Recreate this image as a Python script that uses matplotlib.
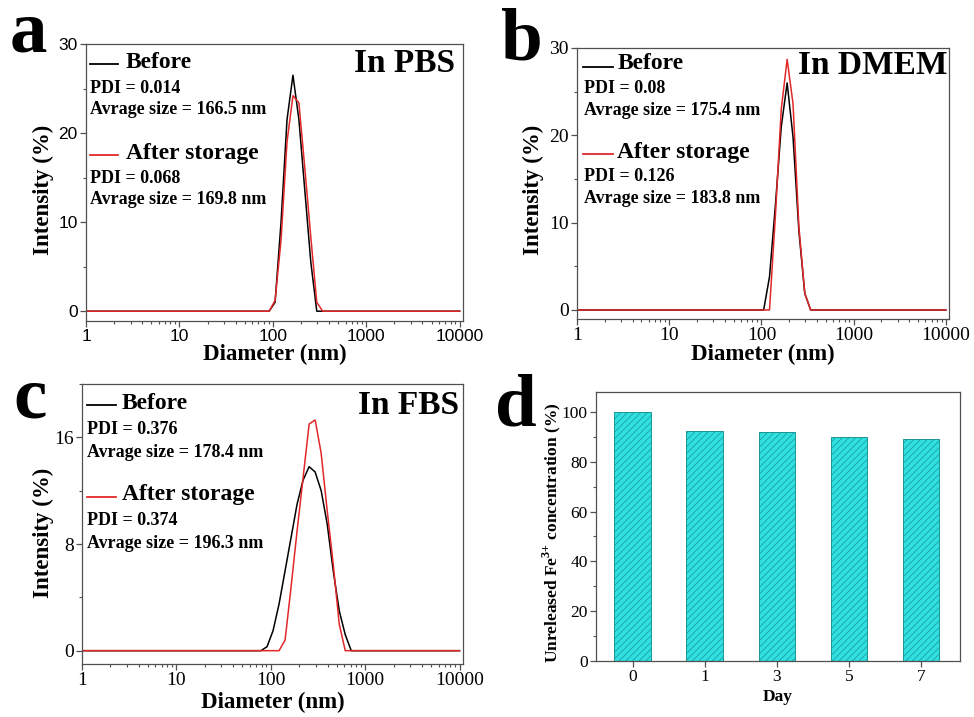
import matplotlib
matplotlib.use("Agg")
import matplotlib.pyplot as plt
import matplotlib.ticker as mticker

plt.rcParams['font.family'] = ['Liberation Serif', 'DejaVu Serif']
plt.rcParams['mathtext.fontset'] = 'custom'
plt.rcParams['mathtext.rm'] = 'Liberation Serif'
plt.rcParams['mathtext.bf'] = 'Liberation Serif:bold'
plt.rcParams['hatch.linewidth'] = 0.5
plt.rcParams['axes.edgecolor'] = '#505050'
plt.rcParams['axes.linewidth'] = 0.9

# DLS size bins (nm)
size_nm = [1, 78.82, 91.28, 105.7, 122.4, 141.8, 164.2, 190.1, 220.2, 255.0,
           295.3, 342.0, 396.1, 458.7, 531.2, 615.1, 712.4, 825.0, 10000]

# intensity (%) per bin
pbs_before = [0, 0, 0, 1.0, 10, 21.5, 26.5, 21.5, 13.5, 5.5, 0, 0, 0, 0, 0, 0, 0, 0, 0]
pbs_after = [0, 0, 0, 1.2, 8, 19, 24.2, 23.4, 16, 8.3, 1, 0, 0, 0, 0, 0, 0, 0, 0]
dmem_before = [0, 0, 0, 0, 3.8, 12, 21, 26, 19.8, 9, 1.9, 0, 0, 0, 0, 0, 0, 0, 0]
dmem_after = [0, 0, 0, 0, 0, 10.8, 23, 28.7, 23.6, 9.5, 1.9, 0, 0, 0, 0, 0, 0, 0, 0]
fbs_before = [0, 0, 0.3, 1.5, 3.5, 6, 8.5, 11, 12.8, 13.8, 13.4, 12, 9.5, 6, 3, 1.2, 0, 0, 0]
fbs_after = [0, 0, 0, 0, 0, 0.8, 4.8, 9, 13, 17, 17.3, 14.8, 10.5, 6.5, 2, 0, 0, 0, 0]

panel_info = [
    ("a", "In PBS", pbs_before, pbs_after, "0.014", "166.5", "0.068", "169.8"),
    ("b", "In DMEM", dmem_before, dmem_after, "0.08", "175.4", "0.126", "183.8"),
    ("c", "In FBS", fbs_before, fbs_after, "0.376", "178.4", "0.374", "196.3"),
]

days = ["0", "1", "3", "5", "7"]
unreleased_fe = [100, 92.2, 91.9, 90.1, 89.0]

fig = plt.figure(figsize=(9.74, 7.17), dpi=100)

axes_rects = [
    [0.0883, 0.5523, 0.387, 0.3863],
    [0.5924, 0.5551, 0.382, 0.378],
    [0.0842, 0.0739, 0.391, 0.3905],
]
ylims = [(-1.1, 30), (-1.03, 30), (-1.0, 20)]
yticks = [([0, 10, 20, 30], 5), ([0, 10, 20, 30], 5), ([0, 8, 16], 4)]
tickfonts = [('Liberation Sans', 12.5), ('Liberation Serif', 14), ('Liberation Serif', 14)]
ylab_pos = [(-0.114, 0.473), (-0.118, 0.476), (-0.102, 0.468)]
xlab_y = [-0.122, -0.132, -0.139]

# text layout (axes fraction): legend line x0,x1 ; text x ; rows y
layout = [
    dict(lx=(0.011, 0.085), tx=0.106, px=0.011, rows=(0.928, 0.935, 0.841, 0.762, 0.599, 0.606, 0.516, 0.437), title=(0.979, 0.928)),
    dict(lx=(0.016, 0.097), tx=0.108, px=0.019, rows=(0.930, 0.941, 0.849, 0.768, 0.609, 0.616, 0.524, 0.443), title=(0.995, 0.937)),
    dict(lx=(0.013, 0.089), tx=0.105, px=0.013, rows=(0.925, 0.932, 0.839, 0.757, 0.596, 0.604, 0.511, 0.432), title=(0.990, 0.925)),
]

letter_pos = [(10, 52), (501, 60), (13, 417), (495, 425)]

for i, (letter, title, before, after, pdi1, sz1, pdi2, sz2) in enumerate(panel_info):
    ax = fig.add_axes(axes_rects[i])
    ax.plot(size_nm, before, color='black', lw=1.1)
    ax.plot(size_nm, after, color='#e0282a', lw=1.1)
    ax.set_xscale('log')
    ax.set_xlim(1, 10 ** 4.035)
    ax.set_ylim(*ylims[i])
    ax.set_xticks([1, 10, 100, 1000, 10000])
    ax.xaxis.set_major_formatter(mticker.FuncFormatter(lambda v, p: f"{v:g}"))
    ax.xaxis.set_minor_locator(mticker.LogLocator(base=10, subs=range(2, 10), numticks=20))
    ax.xaxis.set_minor_formatter(mticker.NullFormatter())
    ax.set_yticks(yticks[i][0])
    ax.yaxis.set_minor_locator(mticker.MultipleLocator(yticks[i][1]))
    ax.tick_params(which='major', direction='out', length=4, width=0.9, color='#505050',
                   labelsize=tickfonts[i][1], labelfontfamily=tickfonts[i][0], pad=2)
    ax.tick_params(which='minor', direction='out', length=2.2, width=0.8, color='#505050')

    ax.set_ylabel("Intensity (%)", fontsize=16.5, fontweight='bold')
    ax.yaxis.set_label_coords(*ylab_pos[i])
    ax.yaxis.label.set_va('center')
    ax.set_xlabel("Diameter (nm)", fontsize=16.5, fontweight='bold')
    ax.xaxis.set_label_coords(0.5, xlab_y[i])
    ax.xaxis.label.set_va('center')

    L = layout[i]
    r = L['rows']
    ax.plot(L['lx'], [r[0], r[0]], color='black', lw=1.3, transform=ax.transAxes)
    ax.text(L['tx'], r[1], "Before", transform=ax.transAxes, fontsize=17,
            fontweight='bold', va='center', ha='left')
    ax.text(L['px'], r[2], f"PDI = {pdi1}", transform=ax.transAxes, fontsize=13,
            fontweight='bold', va='center', ha='left')
    ax.text(L['px'], r[3], f"Avrage size = {sz1} nm", transform=ax.transAxes, fontsize=13,
            fontweight='bold', va='center', ha='left')
    ax.plot(L['lx'], [r[4], r[4]], color='#e0282a', lw=1.3, transform=ax.transAxes)
    ax.text(L['tx'], r[5], "After storage", transform=ax.transAxes, fontsize=17,
            fontweight='bold', va='center', ha='left')
    ax.text(L['px'], r[6], f"PDI = {pdi2}", transform=ax.transAxes, fontsize=13,
            fontweight='bold', va='center', ha='left')
    ax.text(L['px'], r[7], f"Avrage size = {sz2} nm", transform=ax.transAxes, fontsize=13,
            fontweight='bold', va='center', ha='left')
    ax.text(L['title'][0], L['title'][1], title, transform=ax.transAxes, fontsize=24,
            fontweight='bold', va='center', ha='right')

# panel d: bar chart
axd = fig.add_axes([0.6119, 0.0781, 0.3737, 0.3752])
xpos = list(range(len(days)))
axd.bar(xpos, unreleased_fe, width=0.51, color='#30e0e0', edgecolor='#1a9494',
        hatch='/////', linewidth=0.7)
axd.set_xlim(-0.51, 4.54)
axd.set_ylim(0, 108)
axd.set_xticks(xpos)
axd.set_xticklabels(days)
axd.set_yticks(range(0, 101, 20))
axd.yaxis.set_minor_locator(mticker.MultipleLocator(10))
axd.tick_params(which='major', direction='out', length=4, width=0.9, color='#505050',
                labelsize=12.5, pad=2)
axd.tick_params(which='minor', direction='out', length=2.2, width=0.8, color='#505050')
axd.set_ylabel("Unreleased Fe$^{\\mathbf{3{+}}}$ concentration (%)", fontsize=12.5, fontweight='bold')
axd.yaxis.set_label_coords(-0.121, 0.476)
axd.yaxis.label.set_va('center')
axd.set_xlabel("Day", fontsize=12.5, fontweight='bold')
axd.xaxis.set_label_coords(0.5, -0.134)
axd.xaxis.label.set_va('center')

for (lx, ly), letter in zip(letter_pos, "abcd"):
    fig.text(lx / 974, 1 - ly / 717, letter, fontsize=54, fontweight='bold',
             ha='left', va='baseline')

fig.savefig("out.png", dpi=100)
